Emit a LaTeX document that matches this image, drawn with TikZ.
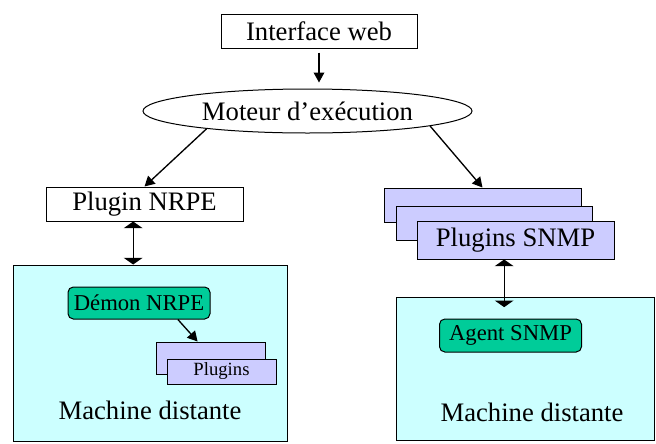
\documentclass[tikz,border=0pt]{standalone}
\usepackage{fontspec}
\setmainfont{Liberation Serif}
\usepackage{tikz}
\usetikzlibrary {arrows.meta,
                 calc,
                 positioning,
                 shapes.geometric}
\definecolor{machcol}{RGB}{204,255,255}
\definecolor{daemoncol}{RGB}{0,204,153}
\definecolor{plugcol}{RGB}{204,204,255}
\tikzset{
        base/.style={draw, line width=0.75pt, align=center, inner sep=0pt},
        big/.style={font=\fontsize{20}{24}\selectfont},
        mid/.style={font=\fontsize{17}{20}\selectfont},
        small/.style={font=\fontsize{14}{17}\selectfont},
        box/.style={base, rectangle, fill=white},
        plug/.style={base, rectangle, fill=plugcol},
        mach/.style={base, rectangle, fill=machcol},
        daemon/.style={base, rectangle, rounded corners=4pt, fill=daemoncol},
        myarrow/.style={-{Triangle[width=8pt,length=7.5pt]}, line width=1pt},
        dblarrow/.style={{Triangle[width=14pt,length=5pt]}-{Triangle[width=14pt,length=5pt]},
                         line width=1pt},
 }

\begin{document}
\begin{tikzpicture}[x=0.75pt, y=-0.75pt]
    \useasboundingbox (0,0) rectangle (656,443);

    \node[box, big, minimum width=147pt, minimum height=25.5pt] (iface) at (319,31) {Interface web};
    \node[base, ellipse, big, minimum width=246.75pt, minimum height=33pt] (moteur) at (307.5,111) {Moteur d'exécution};

    % cote NRPE
    \node[box, big, minimum width=147.75pt, minimum height=25.5pt] (nrpe) at (144.5,204) {Plugin NRPE};
    \node[mach, minimum width=205.5pt, minimum height=132pt] (machL) at (150,353) {};
    \node[daemon, mid, minimum width=106.5pt, minimum height=24pt] (demon) at (139,303) {Démon NRPE};
    \node[plug, minimum width=81.75pt, minimum height=24pt] (plugA) at (210.5,358) {};
    \node[plug, small, minimum width=81.75pt, minimum height=18.75pt] (plugB) at (221.5,371.5) {Plugins};
    \node[big] (distL) at (150,410) {Machine distante};

    % cote SNMP
    \node[plug, minimum width=147.75pt, minimum height=25.5pt] (snmpA) at (482.5,205) {};
    \node[plug, minimum width=147pt, minimum height=25.5pt] (snmpB) at (494,223) {};
    \node[plug, big, minimum width=147.75pt, minimum height=28.5pt] (snmpC) at (515.5,240) {Plugins SNMP};
    \node[mach, minimum width=193.5pt, minimum height=107.25pt] (machR) at (525,368.5) {};
    \node[daemon, mid, minimum width=106.5pt, minimum height=24.75pt] (agent) at (510.5,335.5) {Agent SNMP};
    \node[big] (distR) at (532,412) {Machine distante};

    \coordinate (ifaceout) at ([yshift=-3pt]iface.south);
    \coordinate (nrpeout) at ([xshift=-8.5pt]nrpe.south);
    \coordinate (snmpout) at ([xshift=-8.5pt]snmpC.south);
    \coordinate (snmpin) at ([yshift=-8pt]snmpout |- machR.north);

    \draw[myarrow] (ifaceout) -- ([yshift=4.5pt]ifaceout |- moteur.north);
    \draw[myarrow] (moteur.190) -- (nrpe.north);
    \draw[myarrow] (moteur.353) -- (snmpA.north);
    \draw[dblarrow] (nrpeout) -- (nrpeout |- machL.north);
    \draw[dblarrow] (snmpout) -- (snmpin);
    \draw[myarrow] (demon.-23) -- (plugA.128);

\end{tikzpicture}
\end{document}
